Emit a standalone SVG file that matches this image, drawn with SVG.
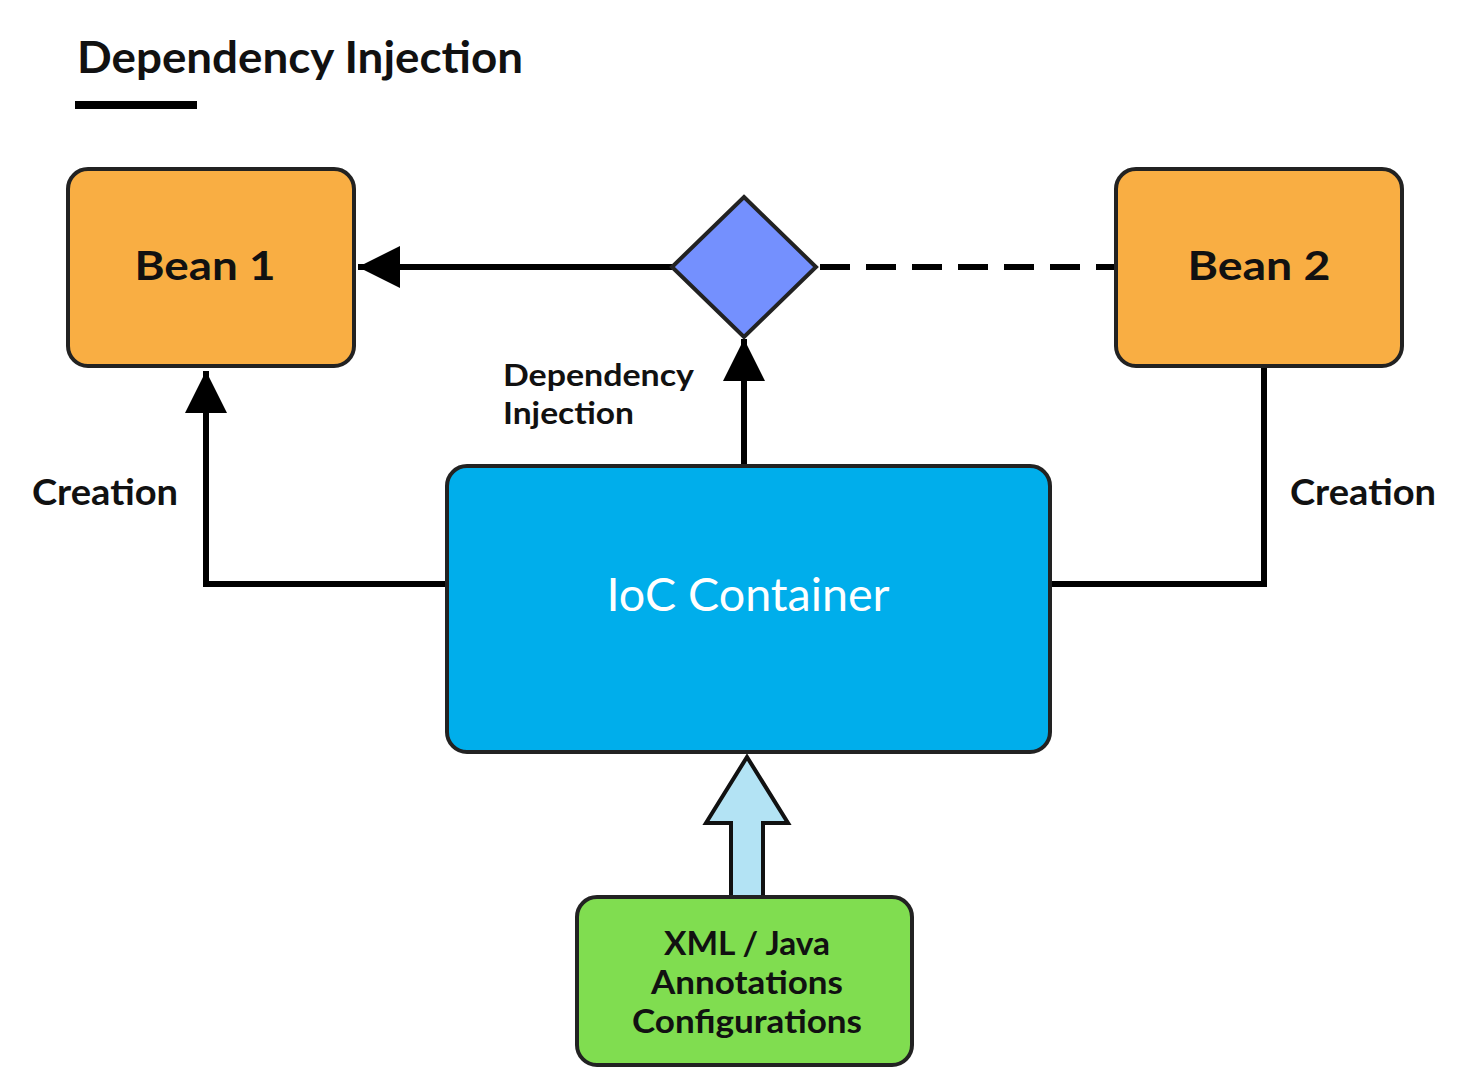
<svg xmlns="http://www.w3.org/2000/svg" width="1470" height="1084" viewBox="0 0 1470 1084">
<defs>
<style>
text{font-family:"Lato","Open Sans","DejaVu Sans",sans-serif;fill:#111;}
.b{font-weight:bold;}
.node{stroke:#222;stroke-width:4;}
.line{stroke:#000;stroke-width:6;fill:none;}
</style>
<marker id="ah" viewBox="0 0 10 10" refX="10" refY="5" markerWidth="7" markerHeight="7" markerUnits="strokeWidth" orient="auto">
<path d="M0,0 L10,5 L0,10 Z" fill="#000"/>
</marker>
</defs>
<rect width="1470" height="1084" fill="#fff"/>
<g id="title">
<text x="77" y="73" class="b" font-size="43" textLength="446" lengthAdjust="spacingAndGlyphs">Dependency Injection</text>
<rect x="75" y="101" width="122" height="8" fill="#000"/>
</g>
<g id="connectors">
<line class="line" x1="672" y1="267" x2="358" y2="267" marker-end="url(#ah)"/>
<line class="line" x1="816" y1="267" x2="1116" y2="267" stroke-dasharray="30,16" stroke-dashoffset="-4"/>
<line class="line" x1="744" y1="466" x2="744" y2="339" marker-end="url(#ah)"/>
<polyline class="line" points="447,584 206,584 206,371" marker-end="url(#ah)"/>
<polyline class="line" points="1050,584 1264,584 1264,366"/>
<path id="config-arrow" d="M731,897 L731,823 L706,823 L747,757 L788,823 L763,823 L763,897 Z" fill="#B3E3F4" stroke="#111" stroke-width="4" stroke-linejoin="miter"/>
<text x="32" y="505" class="b" font-size="37" textLength="146" lengthAdjust="spacingAndGlyphs">Creation</text>
<text x="1290" y="505" class="b" font-size="37" textLength="146" lengthAdjust="spacingAndGlyphs">Creation</text>
<text x="503" y="386" class="b" font-size="31" textLength="191" lengthAdjust="spacingAndGlyphs">Dependency</text>
<text x="503" y="424" class="b" font-size="31" textLength="131" lengthAdjust="spacingAndGlyphs">Injection</text>
</g>
<g id="bean1">
<rect class="node" x="68" y="169" width="286" height="197" rx="20" fill="#F9AE43"/>
<text x="205" y="280" class="b" font-size="40" text-anchor="middle" textLength="141" lengthAdjust="spacingAndGlyphs">Bean 1</text>
</g>
<g id="bean2">
<rect class="node" x="1116" y="169" width="286" height="197" rx="20" fill="#F9AE43"/>
<text x="1259" y="280" class="b" font-size="40" text-anchor="middle" textLength="143" lengthAdjust="spacingAndGlyphs">Bean 2</text>
</g>
<g id="injector">
<polygon class="node" points="744,197 816,267 744,337 672,267" fill="#7490FE"/>
</g>
<g id="ioc">
<rect class="node" x="447" y="466" width="603" height="286" rx="20" fill="#00AEEB"/>
<text x="748" y="611" font-size="46" text-anchor="middle" textLength="283" lengthAdjust="spacingAndGlyphs" style="fill:#fff">IoC Container</text>
</g>
<g id="config">
<rect class="node" x="577" y="897" width="335" height="168" rx="20" fill="#80DD50"/>
<text x="747" y="955" class="b" font-size="32" text-anchor="middle" textLength="166" lengthAdjust="spacingAndGlyphs">XML / Java</text>
<text x="747" y="994" class="b" font-size="32" text-anchor="middle" textLength="192" lengthAdjust="spacingAndGlyphs">Annotations</text>
<text x="747" y="1033" class="b" font-size="32" text-anchor="middle" textLength="230" lengthAdjust="spacingAndGlyphs">Configurations</text>
</g>
</svg>
